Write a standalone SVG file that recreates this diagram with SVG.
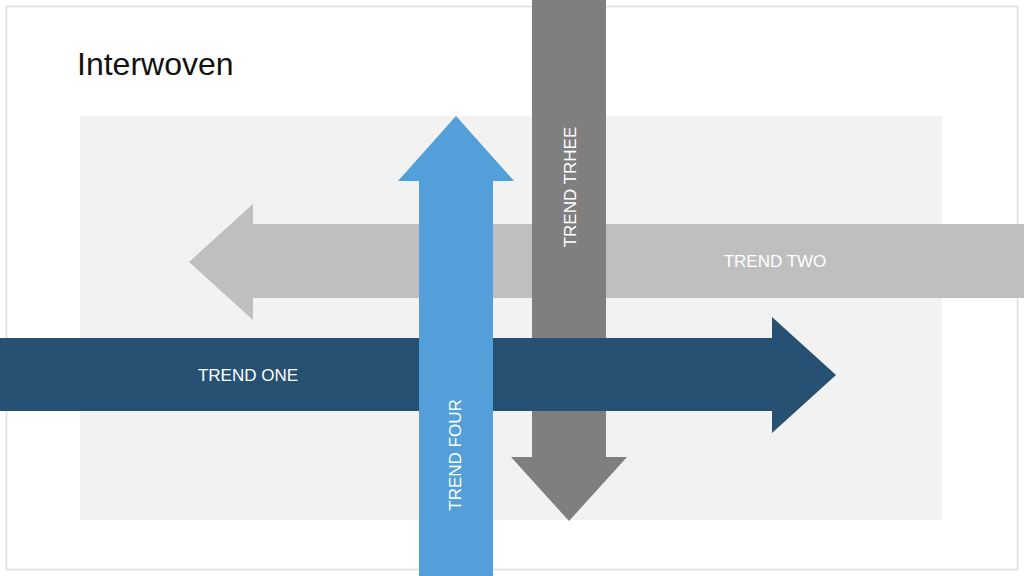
<svg xmlns="http://www.w3.org/2000/svg" width="1024" height="576" viewBox="0 0 1024 576">
<style>
text{font-family:"Helvetica","Liberation Sans",Arial,sans-serif}
.l{fill:#fff;font-size:17px;text-anchor:middle;dominant-baseline:central}
</style>
<rect width="1024" height="576" fill="#fff"/>
<rect x="6.5" y="6.5" width="1011" height="563" fill="none" stroke="#dcdcdc" stroke-width="1.5"/>
<rect x="80" y="116" width="862" height="404" fill="#f2f2f2"/>
<text x="77" y="75" font-size="32" fill="#111">Interwoven</text>
<g id="connectors"></g>
<g id="trend-two"><polygon points="1024,224 253,224 253,204 189,262 253,320 253,298 1024,298" fill="#bfbfbf"/><text class="l" x="775" y="261">TREND TWO</text></g>
<g id="trend-three"><polygon points="532,0 606,0 606,457 627,457 569,521 511,457 532,457" fill="#7f7f7f"/><text class="l" transform="translate(570,187) rotate(-90)">TREND TRHEE</text></g>
<g id="trend-one"><polygon points="0,338 772,338 772,317 836,375 772,433 772,411 0,411" fill="#265172"/><text class="l" x="248" y="375">TREND ONE</text></g>
<g id="trend-four"><polygon points="419,576 419,181 398,181 456,116 514,181 493,181 493,576" fill="#529fd9"/><text class="l" transform="translate(455,455) rotate(-90)">TREND FOUR</text></g>
</svg>
